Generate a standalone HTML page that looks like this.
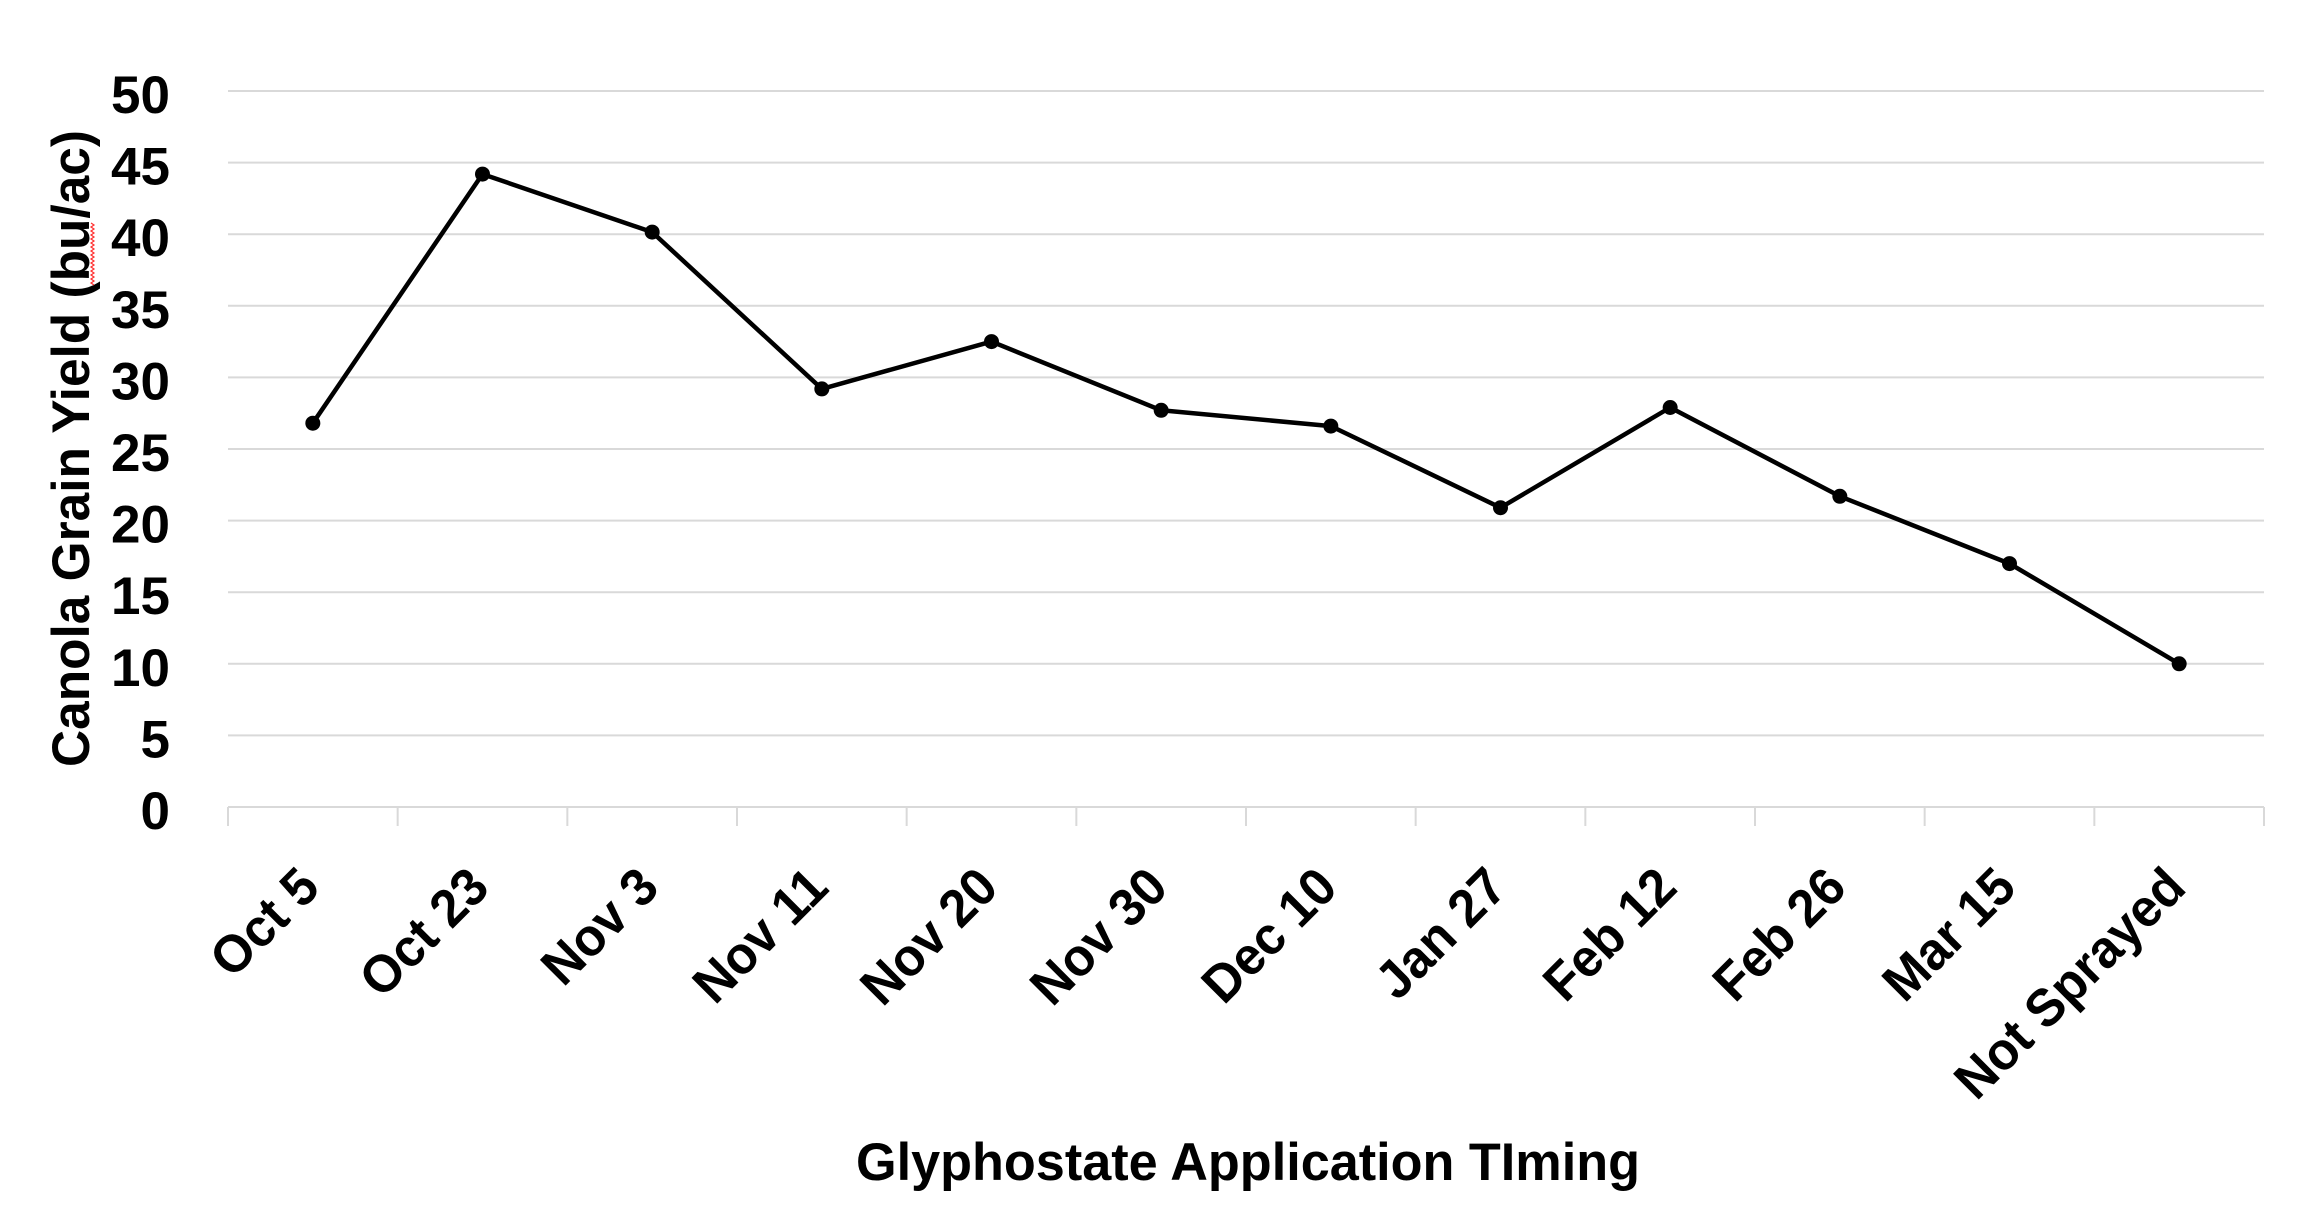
<!DOCTYPE html>
<html>
<head>
<meta charset="utf-8">
<style>
  html, body { margin: 0; padding: 0; background: #ffffff; }
  body { width: 2318px; height: 1228px; overflow: hidden; }
  svg { display: block; }
  text { font-family: "Liberation Sans", Arial, sans-serif; font-weight: bold; fill: #000; }
</style>
</head>
<body>
<svg width="2318" height="1228" viewBox="0 0 2318 1228" xmlns="http://www.w3.org/2000/svg">
  <rect x="0" y="0" width="2318" height="1228" fill="#ffffff"/>

  <!-- gridlines -->
  <g stroke="#d9d9d9" stroke-width="2" fill="none">
    <line x1="228" y1="91" x2="2264" y2="91"/>
    <line x1="228" y1="162.6" x2="2264" y2="162.6"/>
    <line x1="228" y1="234.2" x2="2264" y2="234.2"/>
    <line x1="228" y1="305.8" x2="2264" y2="305.8"/>
    <line x1="228" y1="377.4" x2="2264" y2="377.4"/>
    <line x1="228" y1="449" x2="2264" y2="449"/>
    <line x1="228" y1="520.6" x2="2264" y2="520.6"/>
    <line x1="228" y1="592.2" x2="2264" y2="592.2"/>
    <line x1="228" y1="663.8" x2="2264" y2="663.8"/>
    <line x1="228" y1="735.4" x2="2264" y2="735.4"/>
    <line x1="228" y1="807" x2="2264" y2="807"/>
    <!-- category ticks -->
    <line x1="228" y1="807" x2="228" y2="826"/>
    <line x1="397.67" y1="807" x2="397.67" y2="826"/>
    <line x1="567.33" y1="807" x2="567.33" y2="826"/>
    <line x1="737" y1="807" x2="737" y2="826"/>
    <line x1="906.67" y1="807" x2="906.67" y2="826"/>
    <line x1="1076.33" y1="807" x2="1076.33" y2="826"/>
    <line x1="1246" y1="807" x2="1246" y2="826"/>
    <line x1="1415.67" y1="807" x2="1415.67" y2="826"/>
    <line x1="1585.33" y1="807" x2="1585.33" y2="826"/>
    <line x1="1755" y1="807" x2="1755" y2="826"/>
    <line x1="1924.67" y1="807" x2="1924.67" y2="826"/>
    <line x1="2094.33" y1="807" x2="2094.33" y2="826"/>
    <line x1="2264" y1="807" x2="2264" y2="826"/>
  </g>

  <!-- y tick labels -->
  <g font-size="53" text-anchor="end">
    <text x="170" y="113">50</text>
    <text x="170" y="184.6">45</text>
    <text x="170" y="256.2">40</text>
    <text x="170" y="327.8">35</text>
    <text x="170" y="399.4">30</text>
    <text x="170" y="471">25</text>
    <text x="170" y="542.6">20</text>
    <text x="170" y="614.2">15</text>
    <text x="170" y="685.8">10</text>
    <text x="170" y="757.4">5</text>
    <text x="170" y="829">0</text>
  </g>

  <!-- y axis title -->
  <text transform="translate(89,448.5) rotate(-90)" font-size="53" text-anchor="middle" textLength="637" lengthAdjust="spacingAndGlyphs">Canola Grain Yield (bu/ac)</text>
  <!-- spell-check squiggle -->
  <polyline fill="none" stroke="#ff3030" stroke-width="1.2"
    points="91,223 94,225 91,227 94,229 91,231 94,233 91,235 94,237 91,239 94,241 91,243 94,245 91,247 94,249 91,251 94,253 91,255 94,257 91,259 94,261 91,263 94,265 91,267 94,269 91,271 94,273 91,275 94,277 91,279 94,281 91,283 94,285"/>

  <!-- series line -->
  <polyline fill="none" stroke="#000" stroke-width="4.5" stroke-linejoin="round" stroke-linecap="round"
    points="312.83,423.2 482.5,174.1 652.17,232.1 821.83,388.9 991.5,341.6 1161.17,410.3 1330.83,426.1 1500.5,507.7 1670.17,407.5 1839.83,496.3 2009.5,563.6 2179.17,663.8"/>
  <g fill="#000">
    <circle cx="312.83" cy="423.2" r="7.5"/>
    <circle cx="482.5" cy="174.1" r="7.5"/>
    <circle cx="652.17" cy="232.1" r="7.5"/>
    <circle cx="821.83" cy="388.9" r="7.5"/>
    <circle cx="991.5" cy="341.6" r="7.5"/>
    <circle cx="1161.17" cy="410.3" r="7.5"/>
    <circle cx="1330.83" cy="426.1" r="7.5"/>
    <circle cx="1500.5" cy="507.7" r="7.5"/>
    <circle cx="1670.17" cy="407.5" r="7.5"/>
    <circle cx="1839.83" cy="496.3" r="7.5"/>
    <circle cx="2009.5" cy="563.6" r="7.5"/>
    <circle cx="2179.17" cy="663.8" r="7.5"/>
  </g>

  <!-- x category labels -->
  <g font-size="53" text-anchor="end">
    <text transform="translate(322,890) rotate(-45) scale(0.96,1)">Oct 5</text>
    <text transform="translate(491.5,890) rotate(-45) scale(0.96,1)">Oct 23</text>
    <text transform="translate(661.2,890) rotate(-45) scale(0.96,1)">Nov 3</text>
    <text transform="translate(830.8,890) rotate(-45) scale(0.96,1)">Nov 11</text>
    <text transform="translate(1000.5,890) rotate(-45) scale(0.96,1)">Nov 20</text>
    <text transform="translate(1170.2,890) rotate(-45) scale(0.96,1)">Nov 30</text>
    <text transform="translate(1339.8,890) rotate(-45) scale(0.96,1)">Dec 10</text>
    <text transform="translate(1509.5,890) rotate(-45) scale(0.96,1)">Jan 27</text>
    <text transform="translate(1679.2,890) rotate(-45) scale(0.96,1)">Feb 12</text>
    <text transform="translate(1848.8,890) rotate(-45) scale(0.96,1)">Feb 26</text>
    <text transform="translate(2018.5,890) rotate(-45) scale(0.96,1)">Mar 15</text>
    <text transform="translate(2188.2,890) rotate(-45) scale(0.96,1)">Not Sprayed</text>
  </g>

  <!-- x axis title -->
  <text x="856" y="1180" font-size="53" textLength="784" lengthAdjust="spacingAndGlyphs">Glyphostate Application TIming</text>
</svg>
</body>
</html>
